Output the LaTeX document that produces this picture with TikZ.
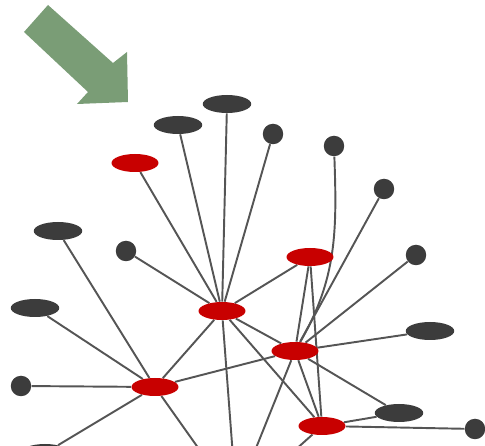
\documentclass[tikz,border=0pt]{standalone}
\usepackage{tikz}
\usetikzlibrary{shapes.geometric,backgrounds}

\definecolor{netred}{RGB}{200,0,0}
\definecolor{netdark}{RGB}{60,60,60}
\definecolor{netedge}{RGB}{85,85,85}
\definecolor{arrowgreen}{RGB}{122,157,118}

\begin{document}
\begin{tikzpicture}[x=0.02cm,y=-0.02cm,
	hub/.style={ellipse,fill=netred,inner sep=0pt,minimum width=0.94cm,minimum height=0.36cm},
	leaf/.style={ellipse,fill=netdark,inner sep=0pt,minimum width=0.97cm,minimum height=0.36cm},
	dot/.style={circle,fill=netdark,inner sep=0pt,minimum size=0.41cm},
	link/.style={draw=netedge,line width=1.1pt}]
	\useasboundingbox (0,0) rectangle (485,446);

	% pointer
	\fill[arrowgreen] (48,5) -- (113,63) -- (127,52) -- (128,102) -- (77,104) -- (88,92) -- (24,32) -- cycle;

	% red nodes
	\node[hub] (r1) at (135,163) {};
	\node[hub] (a) at (222,311) {};
	\node[hub] (r3) at (310,257) {};
	\node[hub] (b) at (295,351) {};
	\node[hub] (r5) at (155,387) {};
	\node[hub] (r6) at (322,426) {};

	% grey nodes
	\node[leaf] (d1) at (178,125) {};
	\node[leaf] (d2) at (227,104) {};
	\node[dot] (d3) at (273,134) {};
	\node[dot] (d4) at (334,146) {};
	\node[dot] (d5) at (384,189) {};
	\node[leaf] (d6) at (58,231) {};
	\node[dot] (d7) at (126,251) {};
	\node[dot] (d8) at (416,255) {};
	\node[leaf] (d9) at (35,308) {};
	\node[leaf] (d10) at (430,331) {};
	\node[dot] (d11) at (21,386) {};
	\node[leaf] (d12) at (399,413) {};
	\node[dot] (d13) at (475,429) {};
	\node[leaf] (d14) at (45,453) {};

	% loose ends below the frame
	\coordinate (ea) at (234,470);
	\coordinate (er) at (211,466);
	\coordinate (eb) at (248,468);
	\coordinate (e6) at (284,460);

	\begin{scope}[on background layer]
	\draw[link] (a) -- (r1);
	\draw[link] (a) -- (d1);
	\draw[link] (a) -- (d2);
	\draw[link] (a) -- (d3);
	\draw[link] (a) -- (d7);
	\draw[link] (a) -- (r3);
	\draw[link] (a) -- (r5);
	\draw[link] (a) -- (b);
	\draw[link] (a) -- (r6);
	\draw[link] (a) -- (ea);
	\draw[link] (r5) -- (d6);
	\draw[link] (r5) -- (d9);
	\draw[link] (r5) -- (d11);
	\draw[link] (r5) -- (d14);
	\draw[link] (r5) -- (b);
	\draw[link] (r5) -- (er);
	\draw[link] (b) -- (r3);
	\draw[link] (b) to[out=60,in=-88] (d4);
	\draw[link] (b) -- (d5);
	\draw[link] (b) -- (d8);
	\draw[link] (b) -- (d10);
	\draw[link] (b) -- (d12);
	\draw[link] (b) -- (r6);
	\draw[link] (b) -- (eb);
	\draw[link] (r3) -- (r6);
	\draw[link] (r6) -- (d12);
	\draw[link] (r6) -- (d13);
	\draw[link] (r6) -- (e6);
	\end{scope}
\end{tikzpicture}
\end{document}
